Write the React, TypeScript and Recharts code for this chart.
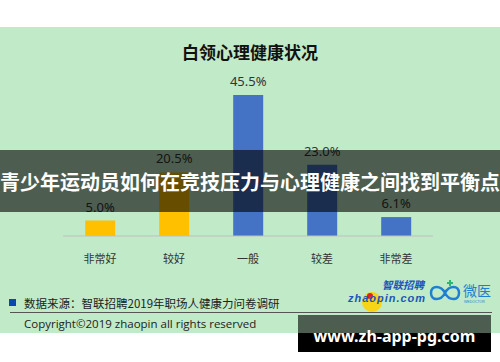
import { BarChart, Bar, XAxis, YAxis, Cell, LabelList } from "recharts";

// survey answers and their share
const levels = ["非常好", "较好", "一般", "较差", "非常差"];
const shares = [5.0, 20.5, 45.5, 23.0, 6.1];
const barColors = ["#FFC000", "#FFC000", "#4472C4", "#4472C4", "#4472C4"];
const boundaryTicks = [0, 1, 2, 3, 4, 5];

const title = "白领心理健康状况";
const banner = "青少年运动员如何在竞技压力与心理健康之间找到平衡点";
const source = "数据来源：智联招聘2019年职场人健康力问卷调研";
const copyright = "Copyright©2019 zhaopin all rights reserved";
const site = "www.zh-app-pg.com";

const data = levels.map((name, i) => ({ name, value: shares[i], pos: i + 0.5 }));

const CJK = '"Noto Sans CJK SC", "Noto Sans", sans-serif';

export default function App() {
  return (
    <div
      style={{
        position: "absolute",
        left: 0,
        top: 0,
        width: 500,
        height: 362,
        background: "#ffffff",
        overflow: "hidden",
        fontFamily: CJK,
      }}
    >
      {/* green card */}
      <div
        style={{
          position: "absolute",
          left: 0,
          top: 27,
          width: 500,
          height: 306,
          background: "#c0eac8",
        }}
      />

      <div
        style={{
          position: "absolute",
          left: 0,
          top: 42,
          width: 500,
          textAlign: "center",
          fontSize: 17,
          fontWeight: 700,
          lineHeight: "20px",
          color: "#111",
        }}
      >
        {title}
      </div>

      <div style={{ position: "absolute", left: 0, top: 0 }}>
        <BarChart
          width={500}
          height={362}
          data={data}
          margin={{ top: 81, right: 67, bottom: 96, left: 63 }}
          barCategoryGap="30%"
        >
          <YAxis hide domain={[0, 50]} />
          <XAxis
            dataKey="name"
            axisLine={{ stroke: "#bfbfbf" }}
            tickLine={false}
            tickMargin={13}
            tick={{ fill: "#333", fontSize: 11, fontFamily: CJK }}
          />
          <XAxis
            xAxisId="edges"
            type="number"
            dataKey="pos"
            domain={[0, 5]}
            ticks={boundaryTicks}
            axisLine={false}
            tick={false}
            tickSize={4}
            tickLine={{ stroke: "#bfbfbf" }}
            height={0}
          />
          <Bar dataKey="value" isAnimationActive={false}>
            {data.map((d, i) => (
              <Cell key={d.name} fill={barColors[i]} />
            ))}
            <LabelList
              dataKey="value"
              position="top"
              offset={9}
              formatter={(v: number) => `${v.toFixed(1)}%`}
              style={{ fill: "#333", fontSize: 13, fontFamily: '"Noto Sans", sans-serif' }}
            />
          </Bar>
        </BarChart>
      </div>

      {/* footer */}
      <div
        style={{
          position: "absolute",
          left: 9,
          top: 299,
          width: 7,
          height: 7,
          background: "#0a47b0",
        }}
      />
      <div
        style={{
          position: "absolute",
          left: 24,
          top: 295,
          fontSize: 11.5,
          lineHeight: "16px",
          color: "#222",
          whiteSpace: "nowrap",
        }}
      >
        {source}
      </div>
      <div
        style={{
          position: "absolute",
          left: 10,
          top: 312,
          width: 482,
          height: 1,
          background: "#555",
        }}
      />
      <div
        style={{
          position: "absolute",
          left: 24,
          top: 316,
          fontSize: 11.5,
          lineHeight: "16px",
          color: "#222",
          fontFamily: '"Open Sans", sans-serif',
          whiteSpace: "nowrap",
        }}
      >
        {copyright}
      </div>

      {/* partner logos */}
      <svg style={{ position: "absolute", left: 0, top: 0 }} width={500} height={362}>
        <circle cx={372} cy={302} r={10} fill="#f7d417" />
        <circle cx={370} cy={296} r={3} fill="#e02020" />
        <text
          x={348}
          y={302}
          fontSize={11}
          fontWeight={700}
          fontStyle="italic"
          fill="#1a56b8"
          fontFamily="Arial, Liberation Sans, sans-serif"
          textLength={77}
        >
          zhaopin.com
        </text>
        <text
          x={382}
          y={289}
          fontSize={10.5}
          fontWeight={700}
          fontStyle="italic"
          fill="#1a56b8"
          fontFamily={CJK}
        >
          智联招聘
        </text>
        <path
          d="M437 293 c0 -8 10 -8 14 0 c4 8 14 8 14 0 c0 -8 -10 -8 -14 0 c-4 8 -14 8 -14 0 z"
          transform="translate(-6 0)"
          fill="none"
          stroke="#1f7fd0"
          strokeWidth={2.5}
        />
        <path d="M447 283 h6 M450 280 v6" stroke="#2bb673" strokeWidth={2} />
        <text x={463} y={296} fontSize={14} fill="#1f7fd0" fontFamily={CJK}>
          微医
        </text>
        <text x={464} y={303} fontSize={3.5} fill="#1f7fd0" fontFamily="sans-serif">
          WEDOCTOR
        </text>
      </svg>

      {/* overlay band */}
      <div
        style={{
          position: "absolute",
          left: 0,
          top: 150,
          width: 500,
          height: 62,
          background: "rgba(0,0,0,0.6)",
          display: "flex",
          alignItems: "center",
          justifyContent: "center",
          color: "#fff",
          fontSize: 20,
          fontWeight: 700,
          whiteSpace: "nowrap",
        }}
      >
        {banner}
      </div>

      {/* site badge */}
      <div
        style={{
          position: "absolute",
          left: 298,
          top: 315,
          width: 193,
          height: 18,
          background: "rgba(0,0,0,0.6)",
        }}
      />
      <div
        style={{
          position: "absolute",
          left: 298,
          top: 333,
          width: 193,
          height: 19,
          background: "#000",
        }}
      />
      <div
        style={{
          position: "absolute",
          left: 298,
          top: 315,
          width: 193,
          height: 37,
          display: "flex",
          alignItems: "center",
          justifyContent: "center",
          paddingTop: 4,
          boxSizing: "border-box",
          color: "#fff",
          fontSize: 16,
          fontWeight: 700,
          fontFamily: '"Noto Sans", sans-serif',
        }}
      >
        {site}
      </div>
    </div>
  );
}
